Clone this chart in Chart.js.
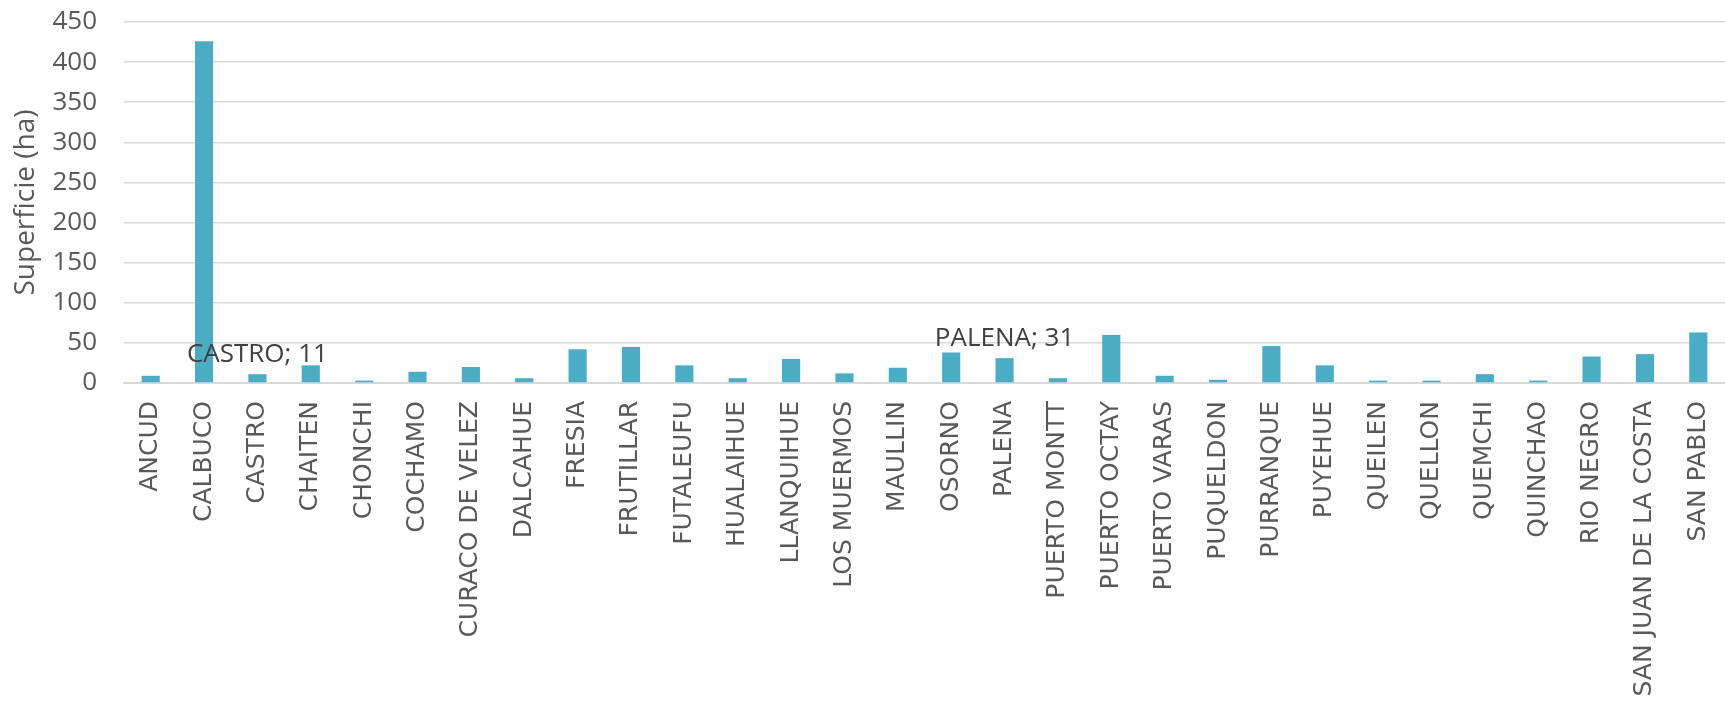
<!DOCTYPE html>
<html>
<head>
<meta charset="utf-8">
<script src="https://cdn.jsdelivr.net/npm/chart.js@4"></script>
<style>
  html, body { margin: 0; padding: 0; background: #fff; }
  canvas { display: block; }
</style>
</head>
<body>
<canvas id="graficoSuperficie" width="1725" height="704"></canvas>
<script>
// Superficie por comuna (ha)
const comunas = ['ANCUD', 'CALBUCO', 'CASTRO', 'CHAITEN', 'CHONCHI', 'COCHAMO', 'CURACO DE VELEZ',
  'DALCAHUE', 'FRESIA', 'FRUTILLAR', 'FUTALEUFU', 'HUALAIHUE', 'LLANQUIHUE', 'LOS MUERMOS',
  'MAULLIN', 'OSORNO', 'PALENA', 'PUERTO MONTT', 'PUERTO OCTAY', 'PUERTO VARAS', 'PUQUELDON',
  'PURRANQUE', 'PUYEHUE', 'QUEILEN', 'QUELLON', 'QUEMCHI', 'QUINCHAO', 'RIO NEGRO',
  'SAN JUAN DE LA COSTA', 'SAN PABLO'];
const superficie = [9, 426, 11, 22, 3, 14, 20, 6, 42, 45, 22, 6, 30, 12, 19, 38, 31, 6, 60, 9, 4,
  46, 22, 3, 3, 11, 3, 33, 36, 63];
const yTicks = [0, 50, 100, 150, 200, 250, 300, 350, 400, 450];
// etiquetas de datos visibles en el original
const etiquetas = ['CASTRO', 'PALENA'];

const etiquetasPlugin = {
  id: 'etiquetas',
  afterDatasetsDraw(chart) {
    const ctx = chart.ctx;
    const meta = chart.getDatasetMeta(0);
    ctx.save();
    ctx.font = '26px "Open Sans"';
    ctx.fillStyle = '#404040';
    ctx.textAlign = 'center';
    ctx.textBaseline = 'middle';
    etiquetas.forEach(nombre => {
      const i = comunas.indexOf(nombre);
      const bar = meta.data[i];
      ctx.fillText(nombre + '; ' + superficie[i], bar.x, bar.y - 20);
    });
    ctx.restore();
  }
};

const ctx = document.getElementById('graficoSuperficie').getContext('2d');
new Chart(ctx, {
  type: 'bar',
  data: {
    labels: comunas,
    datasets: [{
      label: 'Superficie',
      data: superficie,
      backgroundColor: '#4BACC6',
      barPercentage: 0.34,
      categoryPercentage: 1
    }]
  },
  options: {
    responsive: false,
    animation: false,
    devicePixelRatio: 1,
    layout: { padding: { top: 22, right: -8, left: 6, bottom: 0 } },
    plugins: {
      legend: { display: false },
      tooltip: { enabled: false }
    },
    scales: {
      x: {
        grid: { display: false, drawTicks: false },
        border: { color: '#d9d9d9', width: 2 },
        ticks: {
          autoSkip: false,
          minRotation: 90,
          maxRotation: 90,
          padding: 18,
          color: '#595959',
          font: { size: 25, family: 'DejaVu Sans' }
        },
        afterFit(scale) {
          scale.height = 321;
          scale.paddingLeft = 0;
          scale.paddingRight = 0;
        }
      },
      y: {
        min: 0,
        max: 450,
        afterBuildTicks(scale) { scale.ticks = yTicks.map(v => ({ value: v })); },
        grid: { color: '#d9d9d9', lineWidth: 1.5, drawTicks: false },
        border: { display: false },
        ticks: {
          padding: 27,
          color: '#595959',
          font: { size: 26, family: 'Open Sans' }
        },
        title: {
          display: true,
          text: 'Superficie (ha)',
          color: '#595959',
          padding: { top: 3, bottom: 0 },
          font: { size: 28, family: 'Open Sans' }
        },
        afterFit(scale) {
          scale.width = 118;
          scale.paddingTop = 0;
          scale.paddingBottom = 0;
        }
      }
    }
  },
  plugins: [etiquetasPlugin]
});
</script>
</body>
</html>
